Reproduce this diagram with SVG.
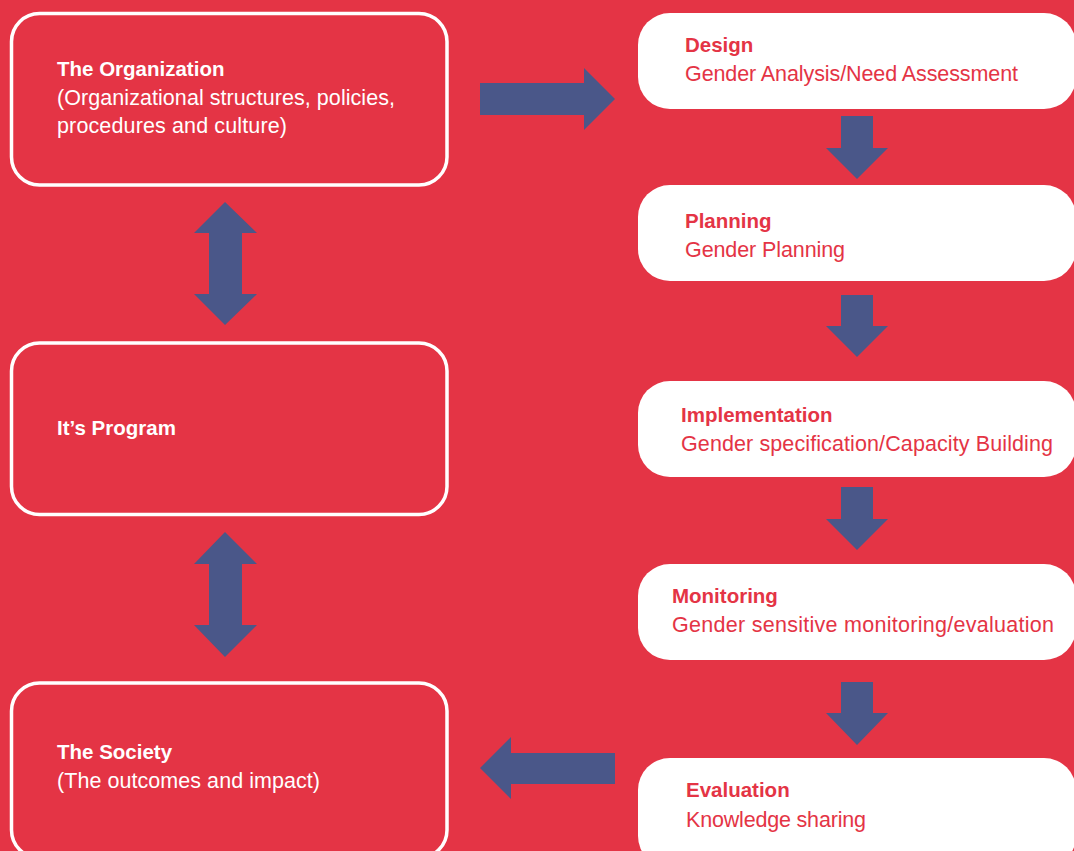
<svg xmlns="http://www.w3.org/2000/svg" width="1074" height="851" viewBox="0 0 1074 851">
<style>
.bg{fill:#E43445}
.lbox{fill:#E43445;stroke:#FFFFFF;stroke-width:3.5}
.rbox{fill:#FFFFFF}
.arr{fill:#4A5789}
text{font-family:"Liberation Sans",Arial,sans-serif;font-size:21.5px}
.b{font-weight:bold;font-size:20.5px}
.w{fill:#FFFFFF}
.r{fill:#E43445}
</style>
<rect class="bg" x="0" y="0" width="1074" height="851"/>
<g id="connectors">
<polygon class="arr" points="480,83 584,83 584,68 615,99 584,130 584,115 480,115"/>
<polygon class="arr" points="615,753 511,753 511,737 480,768 511,799 511,784 615,784"/>
<polygon class="arr" points="225,202 257,233 242,233 242,294 257,294 225,325 194,294 209,294 209,233 194,233"/>
<polygon class="arr" points="225,532 257,564 242,564 242,625 257,625 225,657 194,625 209,625 209,564 194,564"/>
<polygon class="arr" points="841,116 873,116 873,148 888,148 857,179 826,148 841,148"/>
<polygon class="arr" points="841,295 873,295 873,326 888,326 857,357 826,326 841,326"/>
<polygon class="arr" points="841,487 873,487 873,519 888,519 857,550 826,519 841,519"/>
<polygon class="arr" points="841,682 873,682 873,713 888,713 857,745 826,713 841,713"/>
</g>
<g id="organization">
<rect class="lbox" x="11.5" y="13.5" width="435.5" height="171.5" rx="28"/>
<text class="w b" x="57" y="76">The Organization</text>
<text class="w" x="57" y="105" textLength="338">(Organizational structures, policies,</text>
<text class="w" x="57" y="133" textLength="230">procedures and culture)</text>
</g>
<g id="program">
<rect class="lbox" x="11.5" y="343" width="435.5" height="171.5" rx="28"/>
<text class="w b" x="57" y="435">It’s Program</text>
</g>
<g id="society">
<rect class="lbox" x="11.5" y="683" width="435.5" height="175" rx="28"/>
<text class="w b" x="57" y="759">The Society</text>
<text class="w" x="57" y="788" textLength="263">(The outcomes and impact)</text>
</g>
<g id="design">
<rect class="rbox" x="638" y="13" width="438" height="96" rx="32"/>
<text class="r b" x="685" y="52">Design</text>
<text class="r" x="685" y="81" textLength="333">Gender Analysis/Need Assessment</text>
</g>
<g id="planning">
<rect class="rbox" x="638" y="185" width="438" height="96" rx="32"/>
<text class="r b" x="685" y="228">Planning</text>
<text class="r" x="685" y="257" textLength="160">Gender Planning</text>
</g>
<g id="implementation">
<rect class="rbox" x="638" y="381" width="438" height="96" rx="32"/>
<text class="r b" x="681" y="422">Implementation</text>
<text class="r" x="681" y="451" textLength="372">Gender specification/Capacity Building</text>
</g>
<g id="monitoring">
<rect class="rbox" x="638" y="564" width="438" height="96" rx="32"/>
<text class="r b" x="672" y="603">Monitoring</text>
<text class="r" x="672" y="632" textLength="382">Gender sensitive monitoring/evaluation</text>
</g>
<g id="evaluation">
<rect class="rbox" x="638" y="758" width="438" height="110" rx="32"/>
<text class="r b" x="686" y="797">Evaluation</text>
<text class="r" x="686" y="827" textLength="180">Knowledge sharing</text>
</g>
</svg>
